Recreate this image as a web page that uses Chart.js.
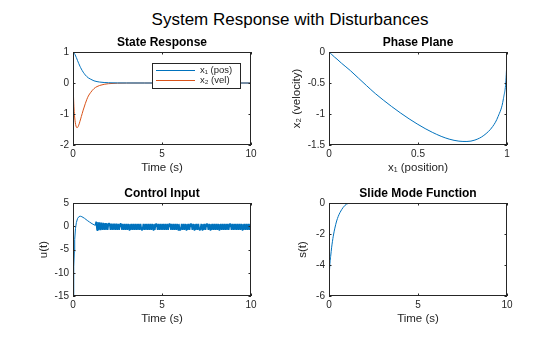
<!DOCTYPE html>
<html>
<head>
<meta charset="utf-8">
<script src="https://cdn.jsdelivr.net/npm/chart.js@4.4.0/dist/chart.umd.min.js"></script>
<style>
  body { margin: 0; background: #fff; }
  #fig { position: relative; width: 560px; height: 337px; overflow: hidden; background: #fff; }
  #fig canvas { position: absolute; }
  #suptitle {
    position: absolute; left: 0; top: 10px; width: 580px; line-height: 20px;
    text-align: center; font: 17px "Liberation Sans", Arial, sans-serif; color: #000;
  }
</style>
</head>
<body>
<div id="fig">
  <div id="suptitle">System Response with Disturbances</div>
  <canvas id="cState"></canvas>
  <canvas id="cPhase"></canvas>
  <canvas id="cCtrl"></canvas>
  <canvas id="cSlide"></canvas>
</div>
<script>
// state trajectories
const tState = [0, 0.02, 0.05, 0.084, 0.111, 0.15, 0.188, 0.22, 0.251, 0.29, 0.322, 0.36, 0.391, 0.43, 0.469, 0.52, 0.572, 0.63, 0.688, 0.77, 0.862, 1.0, 1.179, 1.35, 1.5, 1.75, 2.0, 2.5, 3.0, 4.0, 10.0];
const x1 = [1.0, 0.997, 0.98, 0.95, 0.92, 0.87, 0.82, 0.775, 0.73, 0.675, 0.63, 0.58, 0.54, 0.495, 0.45, 0.40, 0.35, 0.305, 0.26, 0.21, 0.165, 0.12, 0.07, 0.045, 0.030, 0.016, 0.0083, 0.0023, 0.0006, 0, 0];
const x2 = [0, -0.30, -0.75, -1.04, -1.20, -1.345, -1.42, -1.443, -1.438, -1.405, -1.36, -1.295, -1.235, -1.16, -1.078, -0.98, -0.875, -0.775, -0.67, -0.54, -0.42, -0.30, -0.18, -0.115, -0.079, -0.042, -0.022, -0.006, -0.0016, 0, 0];

// control input: reaching phase, then chattering sampled every uChatterStep
const tCtrl = [0, 0.03, 0.056, 0.075, 0.095, 0.14, 0.19, 0.26, 0.34, 0.42, 0.5, 0.65, 0.8, 0.93, 1.07, 1.21, 1.25];
const uCtrl = [-15, -11.5, -8.7, -5.5, -2.85, -0.5, 0.8, 1.7, 2.1, 2.15, 2.05, 1.7, 1.25, 0.9, 0.55, 0.25, 0.18];
const uChatterStart = 1.3;
const uChatterStep = 0.05;
const uChatter = [
  1.0, -0.85, 0.9, -0.85, 0.85, -0.82, 0.8, -0.8, 0.75, -0.8,
  0.7, -0.8, 0.65, -0.8, 0.6, 0.6, -0.8, 0.58, -0.8, 0.55,
  -0.8, 0.55, -0.8, 0.55, -0.8, 0.52, -0.8, 0.52, 0.52, -0.8,
  0.52, -0.8, 0.5, -0.8, 0.5, -0.78, 0.5, -0.78, 0.5, -0.78,
  0.5, -0.78, 0.5, -0.78, 0.5, -0.78, 0.5, -0.78, 0.5, -0.78,
  0.5, -0.78, -0.78, 0.5, -0.78, 0.5, -0.78, 0.5, -0.78, 0.5,
  -0.78, 0.5, -0.78, 0.5, -0.78, 0.5, -0.78, 0.5, 0.5, -0.78,
  0.5, -0.78, 0.5, -0.78, 0.5, -0.78, 0.5, -0.78, 0.5, -0.78,
  0.5, -0.78, 0.5, 0.5, -0.78, 0.5, -0.78, 0.5, -0.78, 0.5,
  -0.78, 0.5, -0.78, 0.5, -0.78, -0.78, 0.5, -0.78, 0.5, -0.78,
  0.5, -0.78, 0.5, -0.78, 0.5, -0.78, 0.5, 0.5, -0.78, 0.5,
  -0.78, 0.5, -0.78, 0.5, -0.78, 0.5, -0.78, -0.78, 0.5, -0.78,
  0.5, -0.78, 0.5, -0.78, 0.5, 0.5, -0.78, 0.5, -0.78, 0.5,
  -0.78, 0.5, -0.78, 0.5, -0.78, 0.5, -0.78, 0.5, -0.78, -0.78,
  0.5, -0.78, 0.5, -0.78, 0.5, -0.78, 0.5, -0.78, 0.5, -0.78,
  0.5, 0.5, -0.78, 0.5, -0.78, 0.5, -0.78, 0.5, -0.78, 0.5,
  -0.78, 0.5, -0.78, 0.5, -0.78, 0.5, -0.78, 0.5, -0.78, 0.5,
  -0.78, 0.5, -0.78, 0.5, -0.78
];

// sliding surface
const tSlide = [0, 0.03, 0.06, 0.093, 0.15, 0.24, 0.33, 0.43, 0.52, 0.62, 0.71, 0.80, 0.90, 0.99, 1.1, 1.25, 10];
const sSlide = [-5, -4.3, -3.8, -3.45, -2.85, -2.14, -1.62, -1.16, -0.86, -0.61, -0.43, -0.28, -0.15, -0.07, -0.02, 0, 0];

const BLUE = '#0072BD';
const ORANGE = '#D95319';
const AXIS = '#262626';
const FONT = '"Liberation Sans", Arial, Helvetica, sans-serif';

Chart.defaults.font.family = FONT;

const pts = (xs, ys) => xs.map((x, i) => ({ x: x, y: ys[i] }));
const fmt = (v) => Number(v.toFixed(3)).toString();

// axes box with inward ticks on all four sides
const matlabBox = {
    id: 'matlabBox',
    afterDatasetsDraw(chart) {
        const { ctx, chartArea: a, scales } = chart;
        ctx.save();
        ctx.strokeStyle = AXIS;
        ctx.lineWidth = 1;
        ctx.strokeRect(a.left + 0.5, a.top + 0.5, a.width - 1, a.height - 1);
        ctx.beginPath();
        scales.x.ticks.forEach((t) => {
            const px = Math.round(scales.x.getPixelForValue(t.value)) + 0.5;
            ctx.moveTo(px, a.bottom); ctx.lineTo(px, a.bottom - 2.5);
            ctx.moveTo(px, a.top); ctx.lineTo(px, a.top + 2.5);
        });
        scales.y.ticks.forEach((t) => {
            const py = Math.round(scales.y.getPixelForValue(t.value)) + 0.5;
            ctx.moveTo(a.left, py); ctx.lineTo(a.left + 2.5, py);
            ctx.moveTo(a.right, py); ctx.lineTo(a.right - 2.5, py);
        });
        ctx.stroke();
        ctx.restore();
    }
};

// boxed legend in the north-east corner of the axes
const boxLegend = {
    id: 'boxLegend',
    afterDraw(chart, args, opts) {
        if (!opts.show) return;
        const { ctx, chartArea: a } = chart;
        const w = 89, h = 26;
        const x = a.right - 10 - w, y = a.top + 11;
        ctx.save();
        ctx.fillStyle = '#fff';
        ctx.fillRect(x, y, w, h);
        ctx.strokeStyle = AXIS;
        ctx.lineWidth = 1;
        ctx.strokeRect(x + 0.5, y + 0.5, w - 1, h - 1);
        ctx.font = '9.5px ' + FONT;
        ctx.textBaseline = 'middle';
        chart.data.datasets.forEach((ds, i) => {
            const ry = y + 7 + i * 10;
            ctx.strokeStyle = ds.borderColor;
            ctx.beginPath();
            ctx.moveTo(x + 4, Math.round(ry) + 0.5);
            ctx.lineTo(x + 43, Math.round(ry) + 0.5);
            ctx.stroke();
            ctx.fillStyle = AXIS;
            ctx.fillText(ds.label, x + 48, ry);
        });
        ctx.restore();
    }
};

function getPanelOptions(p) {
    return {
        responsive: false,
        animation: false,
        events: [],
        layout: { padding: { left: 0, top: 0, right: 10, bottom: 0 }, autoPadding: false },
        elements: { point: { radius: 0 } },
        plugins: {
            legend: { display: false },
            tooltip: { enabled: false },
            boxLegend: { show: !!p.legend },
            title: {
                display: true,
                fullSize: false,
                text: p.title,
                color: '#000',
                font: { size: 12, weight: 'bold' },
                padding: { top: 8.8, bottom: 1.8 }
            }
        },
        scales: {
            x: {
                type: 'linear',
                min: p.xTicks[0],
                max: p.xTicks[p.xTicks.length - 1],
                afterBuildTicks: (s) => { s.ticks = p.xTicks.map((v) => ({ value: v })); },
                afterFit: (s) => { s.height = 35; },
                grid: { display: false, drawTicks: false },
                border: { display: false },
                ticks: { color: AXIS, font: { size: 10 }, padding: 3, maxRotation: 0, autoSkip: false, callback: fmt },
                title: { display: true, text: p.xLabel, color: AXIS, font: { size: 11.5 }, padding: { top: 0, bottom: 5 } }
            },
            y: {
                type: 'linear',
                min: p.yTicks[0],
                max: p.yTicks[p.yTicks.length - 1],
                afterBuildTicks: (s) => { s.ticks = p.yTicks.map((v) => ({ value: v })); },
                afterFit: (s) => { s.width = 60; },
                grid: { display: false, drawTicks: false },
                border: { display: false },
                ticks: { color: AXIS, font: { size: 10 }, padding: 4, autoSkip: false, callback: fmt },
                title: { display: !!p.yLabel, text: p.yLabel, color: AXIS, font: { size: 11.5 }, padding: { top: p.yPad, bottom: 0 } }
            }
        }
    };
}

function createPanel(p) {
    const c = document.getElementById(p.id);
    const [L, T, R, B] = p.rect;
    const left = L - 60, top = T - 25;
    c.width = R - left + 10;
    c.height = B - top + 35;
    c.style.left = left + 'px';
    c.style.top = top + 'px';
    return new Chart(c, {
        type: 'line',
        data: { datasets: p.datasets },
        options: getPanelOptions(p),
        plugins: [matlabBox, boxLegend]
    });
}

const line = (label, data, color, extra) => Object.assign({
    label: label, data: data, borderColor: color, borderWidth: 1, fill: false, pointRadius: 0,
    borderJoinStyle: 'bevel'
}, extra || {});

const last = tCtrl.length - 1;
const chatterData = [{ x: tCtrl[last], y: uCtrl[last] }].concat(
    uChatter.map((v, i) => ({ x: uChatterStart + i * uChatterStep, y: v }))
);

createPanel({
    id: 'cState', rect: [73, 52, 251, 145], title: 'State Response',
    xLabel: 'Time (s)', xTicks: [0, 5, 10], yTicks: [-2, -1, 0, 1], legend: true,
    datasets: [
        line('x\u2081 (pos)', pts(tState, x1), BLUE, { cubicInterpolationMode: 'monotone' }),
        line('x\u2082 (vel)', pts(tState, x2), ORANGE, { cubicInterpolationMode: 'monotone' })
    ]
});

createPanel({
    id: 'cPhase', rect: [329, 52, 507, 145], title: 'Phase Plane',
    xLabel: 'x\u2081 (position)', yLabel: 'x\u2082 (velocity)', yPad: 21,
    xTicks: [0, 0.5, 1], yTicks: [-1.5, -1, -0.5, 0],
    datasets: [line('phase', pts(x1, x2), BLUE, { cubicInterpolationMode: 'monotone' })]
});

createPanel({
    id: 'cCtrl', rect: [73, 203, 251, 296], title: 'Control Input',
    xLabel: 'Time (s)', yLabel: 'u(t)', yPad: 24,
    xTicks: [0, 5, 10], yTicks: [-15, -10, -5, 0, 5],
    datasets: [
        line('u', pts(tCtrl, uCtrl), BLUE),
        line('u chatter', chatterData, BLUE, { borderWidth: 1.5 })
    ]
});

createPanel({
    id: 'cSlide', rect: [329, 203, 507, 296], title: 'Slide Mode Function',
    xLabel: 'Time (s)', yLabel: 's(t)', yPad: 26.5,
    xTicks: [0, 5, 10], yTicks: [-6, -4, -2, 0],
    datasets: [line('s', pts(tSlide, sSlide), BLUE, { cubicInterpolationMode: 'monotone' })]
});
</script>
</body>
</html>
